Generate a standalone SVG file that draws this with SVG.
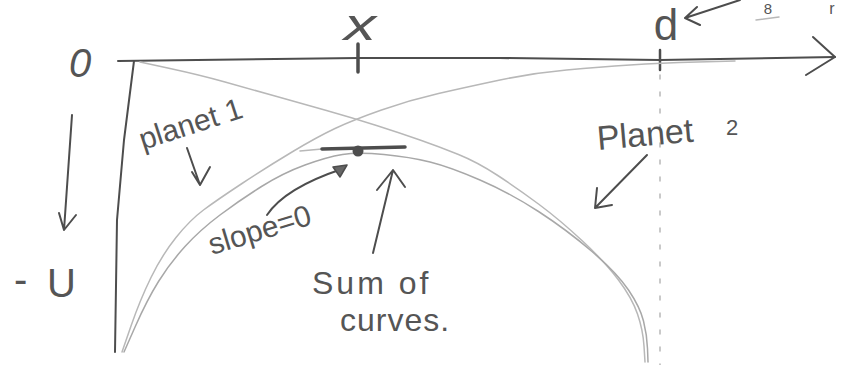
<svg xmlns="http://www.w3.org/2000/svg" width="842" height="365" viewBox="0 0 842 365">
<style>
.ink{fill:none;stroke:#4d4d4d;stroke-width:2;stroke-linecap:round;stroke-linejoin:round}
.faint{fill:none;stroke:#b8b8b8;stroke-width:1.5;stroke-linecap:round;stroke-linejoin:round}
.lbl{font-family:"Liberation Sans",Arial,sans-serif;fill:#555}
</style>
<rect width="842" height="365" fill="#fff"/>
<g id="axes">
<path class="ink" d="M118,61 L358,58 L500,58 L660,60 L835,57"/>
<path class="ink" d="M813,37 Q825,48 835,57 L806,75"/>
<path class="ink" d="M134,61 L124,140 L117,220 L115,352"/>
<path class="ink" d="M358,44 L358,72" style="stroke-width:3.5"/>
<path class="ink" d="M660,50 L660,70" style="stroke-width:2.5"/>
<path class="faint" d="M660,75 L660,365" style="stroke-dasharray:4 13"/>
</g>
<g id="curves">
<path id="planet1-curve" class="faint" d="M122,352 L131,326 Q140,300 151,277.5 Q162,255 176,237.5 Q190,220 203.5,210 Q217,200 242,183.5 Q267,167 292,152 Q317,137 335,128.5 Q353,120 381.5,110 Q410,100 438.5,93.5 Q467,87 500,80 Q533,73 566.5,70 Q600,67 630,65 Q660,63 697.5,62 L735,61"/>
<path id="planet2-curve" class="faint" d="M140,62 L170,68.5 Q200,75 225,82 Q250,89 275,96 Q300,103 326.5,110.5 Q353,118 376.5,125.5 Q400,133 420,140 Q440,147 458.5,154.5 Q477,162 497,175 Q517,188 538.5,204 Q560,220 582.5,241 Q605,262 618.5,280 Q632,298 637.5,314 Q643,330 644,346 L645,362"/>
<path id="sum-curve" class="faint" d="M124,352 L135.5,326 Q147,300 158.5,281.5 Q170,263 185,246.5 Q200,230 220,215 Q240,200 261.5,186.5 Q283,173 305,165 Q327,157 342.5,154.5 Q358,152 384,154.5 Q410,157 430,162 Q450,167 480,180 Q510,193 538.5,211.5 Q567,230 592,251.5 Q617,273 628.5,290 Q640,307 643.5,321 Q647,335 647.5,348.5 L648,362" style="stroke:#a8a8a8"/>
</g>
<g id="tangent-point">
<path class="faint" d="M300,151 L322,149"/>
<path class="ink" d="M322,149 L405,147" style="stroke-width:3.5"/>
<circle cx="358" cy="151" r="5.5" fill="#4d4d4d"/>
</g>
<g id="connectors">
<path class="ink" d="M72,115 L64,230 M59,213 L64,230 L76,215"/>
<path class="ink" d="M187,148 L200,185 M192,172 L200,185 L210,167"/>
<path class="ink" d="M267,215 Q285,188 342,169"/>
<path d="M347,165 L333,167 L340,177 Z" fill="#666" stroke="#4d4d4d" stroke-width="1.5" stroke-linejoin="round"/>
<path class="ink" d="M373,253 L393,170 M377,190 L393,170 L405,187"/>
<path class="ink" d="M647,155 L595,208 M597,188 L595,208 L612,205"/>
<path class="ink" d="M740,0 L685,18 M697,7 L685,18 L700,25"/>
<path class="faint" d="M756,20 L779,17"/>
</g>
<g id="labels">
<text class="lbl" x="344" y="40" font-family="Liberation Serif" font-style="italic" font-size="44" textLength="32" lengthAdjust="spacingAndGlyphs">x</text>
<text class="lbl" x="666" y="40" font-size="44" text-anchor="middle">d</text>
<text class="lbl" x="768" y="14" font-size="15" text-anchor="middle">8</text>
<text class="lbl" x="832" y="14" font-size="16" text-anchor="middle">r</text>
<text class="lbl" x="69" y="77" font-size="40" font-style="italic">0</text>
<text class="lbl" font-size="40"><tspan x="14" y="293">-</tspan><tspan x="47" y="297">U</tspan></text>
<text class="lbl" x="143" y="150" font-size="30" transform="rotate(-18 143 150)">planet 1</text>
<text class="lbl" x="212" y="255" font-size="30" transform="rotate(-17 212 255)">slope=0</text>
<text class="lbl" x="312" y="294" font-size="32" letter-spacing="3">Sum of</text>
<text class="lbl" x="340" y="331" font-size="32" letter-spacing="1">curves.</text>
<text class="lbl" x="598" y="150" font-size="34" transform="rotate(-5 598 150)">Planet</text>
<text class="lbl" x="726" y="135" font-size="22">2</text>
</g>
</svg>
